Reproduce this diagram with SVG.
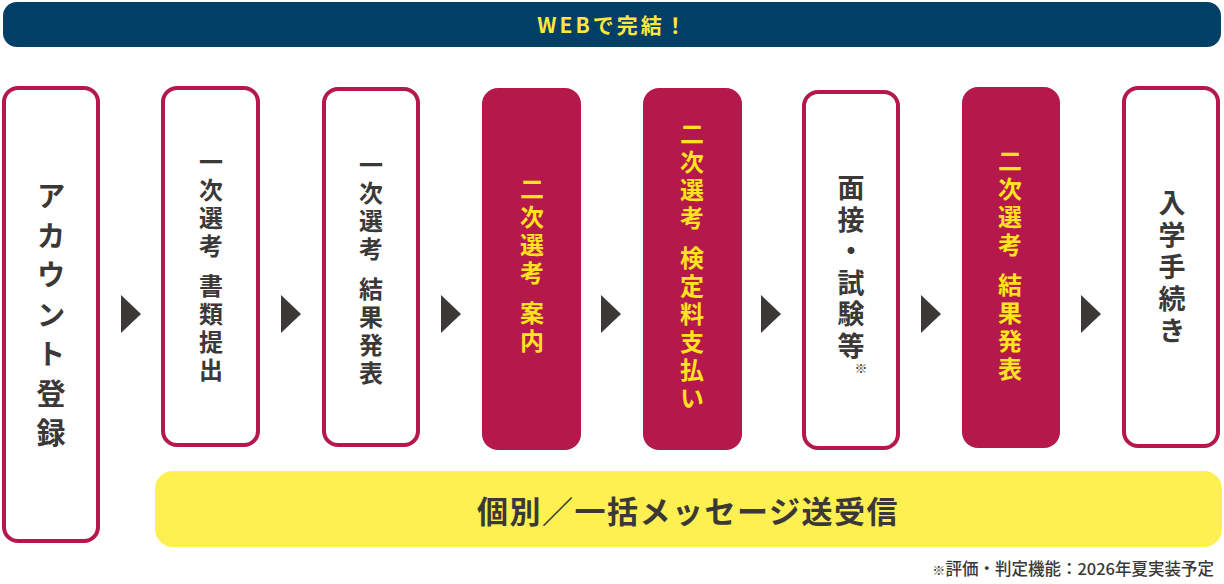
<svg xmlns="http://www.w3.org/2000/svg" width="1224" height="584" viewBox="0 0 1224 584">
<style>
  text { font-family: "Noto Sans CJK JP", "Noto Sans", sans-serif; font-weight: 700; }
  .ob { fill: #ffffff; stroke: #B5184B; stroke-width: 4; }
  .fb { fill: #B5184B; }
  .dk { fill: #3b3838; }
  .yl { fill: #FFE31E; }
  .v { writing-mode: vertical-rl; }
  .s24 { font-size: 24px; letter-spacing: 4px; }
  .s27 { font-size: 27px; }
  .s29 { font-size: 29px; letter-spacing: 10.5px; }
  .arr { fill: #3b3838; }
</style>
<g id="web-bar">
  <rect x="3" y="2" width="1218" height="45" rx="14" fill="#003F66"/>
  <text x="613" y="33" font-size="21" fill="#FFE93B" text-anchor="middle" letter-spacing="3">WEBで完結！</text>
</g>
<g id="node-account">
  <rect class="ob" x="4" y="88" width="94" height="453" rx="14"/>
  <text class="dk v s29" x="51" y="181.5">アカウント登録</text>
</g>
<g id="node-first-docs">
  <rect class="ob" x="163" y="88" width="95" height="357" rx="14"/>
  <text class="dk v s24" x="211" y="150">一次選考 <tspan dy="3">書類提出</tspan></text>
</g>
<g id="node-first-result">
  <rect class="ob" x="324" y="89" width="94" height="356" rx="14"/>
  <text class="dk v s24" x="371" y="153">一次選考 <tspan dy="3">結果発表</tspan></text>
</g>
<g id="node-second-guide">
  <rect class="fb" x="482" y="88" width="99" height="362" rx="16"/>
  <text class="yl v s24" x="532" y="177">二次選考 <tspan dy="3">案内</tspan></text>
</g>
<g id="node-second-fee">
  <rect class="fb" x="643" y="88" width="99" height="362" rx="16"/>
  <text class="yl v s24" x="692" y="122">二次選考 <tspan dy="3">検定料支払い</tspan></text>
</g>
<g id="node-interview">
  <rect class="ob" x="804" y="92" width="94" height="356" rx="14"/>
  <text class="dk v s27" x="851" y="174.5" letter-spacing="4.5">面接・試験等</text>
  <text class="dk" x="861" y="373" font-size="13" text-anchor="middle">※</text>
</g>
<g id="node-second-result">
  <rect class="fb" x="962" y="87" width="98" height="361" rx="16"/>
  <text class="yl v s24" x="1010" y="149">二次選考 <tspan dy="3">結果発表</tspan></text>
</g>
<g id="node-enroll">
  <rect class="ob" x="1124" y="88" width="94" height="358" rx="14"/>
  <text class="dk v s27" x="1172" y="189.5" letter-spacing="5">入学手続き</text>
</g>
<g id="connectors">
  <polygon class="arr" points="121,295 141,314 121,333"/>
  <polygon class="arr" points="281,295 301,314 281,333"/>
  <polygon class="arr" points="441,295 461,314 441,333"/>
  <polygon class="arr" points="601,295 621,314 601,333"/>
  <polygon class="arr" points="761,295 781,314 761,333"/>
  <polygon class="arr" points="921,295 941,314 921,333"/>
  <polygon class="arr" points="1081,295 1101,314 1081,333"/>
</g>
<g id="message-bar">
  <rect x="155" y="471" width="1067" height="76" rx="18" fill="#FEF051"/>
  <text x="688" y="523" font-size="31" fill="#3b3838" text-anchor="middle" letter-spacing="1.5">個別／一括メッセージ送受信</text>
</g>
<g id="footnote">
  <text x="1214" y="575" font-size="16.5" fill="#3b3838" text-anchor="end" style="font-weight:500"><tspan font-size="13">※</tspan>評価・判定機能：2026年夏実装予定</text>
</g>
</svg>
